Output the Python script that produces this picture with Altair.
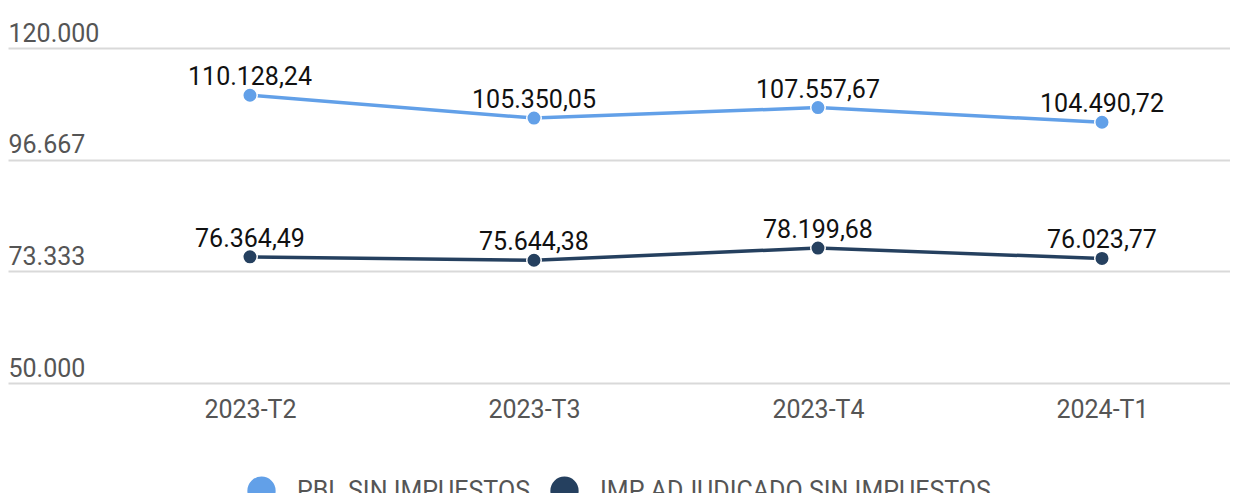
import altair as alt
import pandas as pd

periods = ["2023-T2", "2023-T3", "2023-T4", "2024-T1"]
series_names = ["PBL SIN IMPUESTOS", "IMP ADJUDICADO SIN IMPUESTOS"]
pbl = [110128.24, 105350.05, 107557.67, 104490.72]
imp = [76364.49, 75644.38, 78199.68, 76023.77]
y_ticks = [50000, 73333.333, 96666.667, 120000]
colors = ["#62A0E8", "#25405F"]

rows = []
for p, v in zip(periods, pbl):
    rows.append({"periodo": p, "serie": series_names[0], "valor": v})
for p, v in zip(periods, imp):
    rows.append({"periodo": p, "serie": series_names[1], "valor": v})
df = pd.DataFrame(rows)

x = alt.X("periodo:N", sort=periods,
          scale=alt.Scale(type="point", padding=0.6514, align=0.654),
          axis=alt.Axis(title=None, domain=False, ticks=False, labelAngle=0,
                        labelFontSize=25, labelColor="#555555", labelPadding=14,
                        labelFont="Roboto", grid=False))
y = alt.Y("valor:Q",
          scale=alt.Scale(domain=[50000, 120000], nice=False, zero=False),
          axis=alt.Axis(title=None, domain=False, ticks=False, values=y_ticks,
                        format=",.0f", labelAlign="left", labelBaseline="alphabetic",
                        labelOffset=-7, labelPadding=0, labelFontSize=25,
                        labelColor="#555555", labelFont="Roboto",
                        gridColor="#d9d9d9", gridWidth=2, labelFlush=False,
                        labelOverlap=False, labelBound=False))
color = alt.Color("serie:N", scale=alt.Scale(domain=series_names, range=colors),
                  legend=alt.Legend(title=None, orient="none", legendX=239, legendY=428,
                                    direction="horizontal",
                                    symbolType="circle", symbolSize=800,
                                    symbolStrokeWidth=0, labelFontSize=25,
                                    labelColor="#555555", labelFont="Roboto",
                                    labelLimit=600, labelOffset=21, columnPadding=20))

base = alt.Chart(df).encode(x=x, y=y)
lines = base.mark_line(strokeWidth=3.5).encode(color=color)
points = base.mark_point(filled=True, size=210, shape="circle", opacity=1,
                         stroke="white", strokeWidth=1.5).encode(color=color)
labels = base.mark_text(dy=-10, baseline="alphabetic", fontSize=25, font="Roboto",
                        color="#111111").encode(
    text=alt.Text("valor:Q", format=",.2f"), detail="serie:N")

chart = (lines + points + labels).properties(
    width=1222, height=335,
    padding={"left": 0, "top": 40, "right": 0, "bottom": 110},
    autosize=alt.AutoSizeParams(type="none"),
).configure_view(stroke=None)

chart.save("out.html", embed_options={
    "renderer": "svg", "actions": False,
    "formatLocale": {"decimal": ",", "thousands": ".", "grouping": [3],
                     "currency": ["", " €"]},
})
